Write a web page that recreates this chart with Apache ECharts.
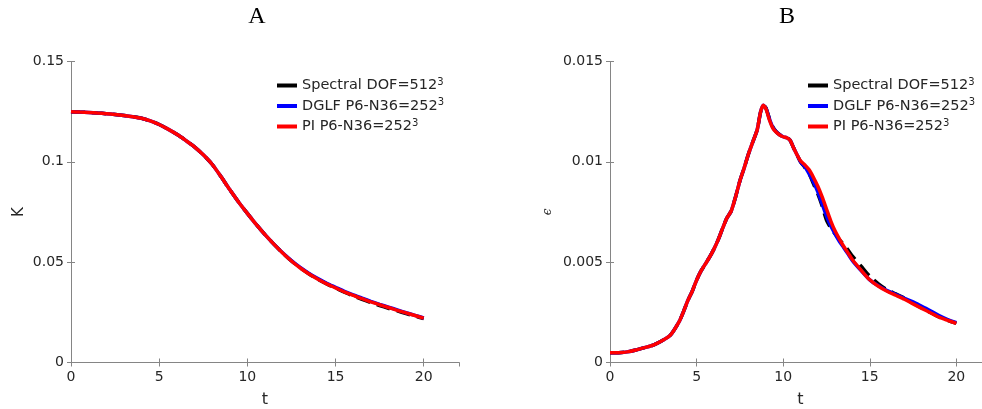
<!DOCTYPE html>
<html><head><meta charset="utf-8">
<script src="https://cdn.jsdelivr.net/npm/echarts@6/dist/echarts.min.js"></script>
<style>html,body{margin:0;padding:0;background:#fff}#c{width:982px;height:409px}</style>
</head><body><div id="c"></div>
<script>
// ---- Data ----
const seriesNames = ['Spectral DOF=512³', 'DGLF P6-N36=252³', 'PI P6-N36=252³'];
const panelTitles = ['A', 'B'];
const xTicks = [0, 5, 10, 15, 20];
const kTicks = [0, 0.05, 0.1, 0.15];
const epsTicks = [0, 0.005, 0.01, 0.015];

// Panel A: kinetic energy K(t)
const tK = [0,0.5,1,1.5,2,2.5,3,3.5,4,4.5,5,5.5,6,6.5,7,7.5,8,8.5,9,9.5,10,10.5,11,11.5,12,12.5,13,13.5,14,14.5,15,15.5,16,16.5,17,17.5,18,18.5,19,19.5,20];
const kPI = [0.1250,0.1248,0.1246,0.1243,0.1240,0.1236,0.1231,0.1225,0.1217,0.1204,0.1186,0.1163,0.1137,0.1107,0.1075,0.1035,0.0988,0.0927,0.0862,0.0800,0.0743,0.0688,0.0637,0.0590,0.0546,0.0506,0.0471,0.0441,0.0415,0.0392,0.0372,0.0352,0.0334,0.0318,0.0302,0.0288,0.0274,0.0260,0.0247,0.0234,0.0221];
const kDGLF = [0.1250,0.1248,0.1246,0.1243,0.1240,0.1236,0.1231,0.1225,0.1217,0.1204,0.1186,0.1163,0.1137,0.1107,0.1075,0.1035,0.0988,0.0927,0.0862,0.0800,0.0743,0.0688,0.0637,0.0590,0.0547,0.0508,0.0474,0.0444,0.0418,0.0395,0.0375,0.0355,0.0337,0.0321,0.0305,0.0290,0.0276,0.0262,0.0248,0.0235,0.0222];
const kSpectral = [0.1250,0.1248,0.1246,0.1243,0.1240,0.1236,0.1231,0.1225,0.1217,0.1204,0.1186,0.1163,0.1137,0.1107,0.1075,0.1035,0.0988,0.0927,0.0862,0.0800,0.0743,0.0688,0.0637,0.0590,0.0546,0.0506,0.0471,0.0441,0.0415,0.0392,0.0371,0.0351,0.0332,0.0315,0.0299,0.0284,0.0270,0.0257,0.0244,0.0231,0.0219];

// Panel B: dissipation rate eps(t)
const tE = [0,0.5,1,1.5,2,2.5,3,3.5,4,4.25,4.5,4.75,5,5.25,5.5,5.75,6,6.25,6.5,6.75,7,7.25,7.5,7.75,8,8.25,8.5,8.7,8.85,9,9.2,9.4,9.6,9.8,10,10.2,10.4,10.6,10.8,11,11.25,11.5,11.75,12,12.25,12.5,12.75,13,13.25,13.5,13.75,14,14.5,15,15.5,16,16.5,17,17.5,18,18.5,19,19.5,20];
const ePI = [0.00048,0.00049,0.00053,0.00062,0.00074,0.00087,0.00108,0.00138,0.00205,0.00255,0.00310,0.00355,0.00410,0.00455,0.00490,0.00525,0.00565,0.00612,0.00668,0.00720,0.00755,0.00825,0.00905,0.00970,0.01040,0.01100,0.01160,0.01250,0.01282,0.01265,0.01210,0.01168,0.01148,0.01134,0.01125,0.01120,0.01108,0.01070,0.01035,0.01005,0.00985,0.00960,0.00922,0.00878,0.00825,0.00765,0.00705,0.00655,0.00615,0.00578,0.00545,0.00512,0.00460,0.00412,0.00380,0.00355,0.00335,0.00315,0.00292,0.00270,0.00248,0.00226,0.00210,0.00195];
const eDGLF = [0.00048,0.00049,0.00053,0.00062,0.00074,0.00087,0.00108,0.00138,0.00205,0.00255,0.00310,0.00355,0.00410,0.00455,0.00490,0.00525,0.00565,0.00612,0.00668,0.00720,0.00755,0.00825,0.00905,0.00970,0.01040,0.01100,0.01160,0.01250,0.01282,0.01268,0.01215,0.01172,0.01150,0.01135,0.01125,0.01120,0.01108,0.01070,0.01035,0.01000,0.00975,0.00940,0.00900,0.00850,0.00790,0.00730,0.00680,0.00640,0.00603,0.00572,0.00540,0.00508,0.00458,0.00412,0.00382,0.00358,0.00340,0.00320,0.00302,0.00280,0.00258,0.00234,0.00214,0.00198];
const eSpectral = [0.00048,0.00049,0.00053,0.00062,0.00074,0.00087,0.00108,0.00138,0.00205,0.00255,0.00310,0.00355,0.00410,0.00455,0.00490,0.00525,0.00565,0.00612,0.00668,0.00720,0.00755,0.00825,0.00905,0.00970,0.01040,0.01100,0.01160,0.01250,0.01282,0.01270,0.01218,0.01175,0.01150,0.01135,0.01125,0.01120,0.01108,0.01070,0.01035,0.01000,0.00972,0.00940,0.00890,0.00840,0.00780,0.00710,0.00670,0.00640,0.00612,0.00588,0.00560,0.00530,0.00480,0.00430,0.00392,0.00362,0.00342,0.00322,0.00295,0.00272,0.00249,0.00227,0.00210,0.00195];

// ---- Chart ----
const zip = (xs, ys) => xs.map((x, i) => [x, ys[i]]);
const axisCol = '#858585', textCol = '#262626';
const fontSans = 'DejaVu Sans';
const fmt = v => String(+v.toFixed(4));

function xAxes(gi) {
  return [
    {gridIndex: gi, type: 'value', min: 0, max: 22, interval: 5, position: 'bottom',
     name: 't', nameLocation: 'middle', nameGap: 29,
     nameTextStyle: {fontFamily: fontSans, fontSize: 16, color: textCol},
     axisLine: {show: true, lineStyle: {color: axisCol, width: 1}},
     axisTick: {show: true, inside: true, length: 4, lineStyle: {color: axisCol}},
     axisLabel: {fontFamily: fontSans, fontSize: 14, color: textCol, margin: 8, showMaxLabel: false,
                 formatter: v => xTicks.includes(v) ? String(v) : ''},
     splitLine: {show: false}},
    {gridIndex: gi, type: 'value', min: 0, max: 22, interval: 5, position: 'top',
     axisLine: {show: true, lineStyle: {color: axisCol, width: 1}},
     axisTick: {show: true, inside: true, length: 4, lineStyle: {color: axisCol}},
     axisLabel: {show: false}, splitLine: {show: false}}
  ];
}
function yAxes(gi, max, interval, name, nameStyle, nameGap, ticks) {
  return [
    {gridIndex: gi, type: 'value', min: 0, max: max, interval: interval, position: 'left',
     name: name, nameLocation: 'middle', nameGap: nameGap, nameRotate: 90, nameTextStyle: nameStyle,
     axisLine: {show: true, lineStyle: {color: axisCol, width: 1}},
     axisTick: {show: true, inside: true, length: 4, lineStyle: {color: axisCol}},
     axisLabel: {fontFamily: fontSans, fontSize: 14, color: textCol, margin: 7,
                 formatter: v => ticks.some(t => Math.abs(t - v) < 1e-9) ? fmt(v) : ''},
     splitLine: {show: false}},
    {gridIndex: gi, type: 'value', min: 0, max: max, interval: interval, position: 'right',
     axisLine: {show: true, lineStyle: {color: axisCol, width: 1}},
     axisTick: {show: true, inside: true, length: 4, lineStyle: {color: axisCol}},
     axisLabel: {show: false}, splitLine: {show: false}}
  ];
}

const styles = [
  {color: '#000000', type: [14, 7]},
  {color: '#0000ff', type: 'solid'},
  {color: '#ff0000', type: 'solid'}
];
function mkSeries(xi, yi, datas) {
  return datas.map((d, i) => ({
    type: 'line', name: seriesNames[i], xAxisIndex: xi, yAxisIndex: yi,
    data: d, showSymbol: false, symbol: 'none', smooth: 0.25, animation: false,
    lineStyle: {color: styles[i].color, width: 3.5, type: styles[i].type},
    itemStyle: {color: styles[i].color}, z: 2 + i
  }));
}

const legendText = {
  fontFamily: fontSans, fontSize: 14.5, color: textCol,
  rich: {
    b: {fontFamily: fontSans, fontSize: 14.5, color: textCol, lineHeight: 17},
    s: {fontFamily: fontSans, fontSize: 10, color: textCol, lineHeight: 10, verticalAlign: 'top', padding: [0, 0, 7, 0]}
  }
};
const legendFmt = n => '{b|' + n.replace('³', '') + '}{s|3}';
function mkLegend(left) {
  return {
    left: left, top: 77, orient: 'vertical', itemWidth: 20, itemHeight: 4, itemGap: 3.5,
    data: seriesNames.map(n => ({name: n, icon: 'rect'})),
    textStyle: legendText, formatter: legendFmt, selectedMode: false,
    padding: 0
  };
}

const chart = echarts.init(document.getElementById('c'), null, {renderer: 'canvas'});
chart.setOption({
  animation: false,
  backgroundColor: '#ffffff',
  grid: [
    {left: 71, top: 61.5, width: 388, height: 301, show: false, containLabel: false, outerBoundsMode: 'none'},
    {left: 610, top: 61.5, width: 381, height: 301, show: false, containLabel: false, outerBoundsMode: 'none'}
  ],
  xAxis: [...xAxes(0), ...xAxes(1)],
  yAxis: [
    ...yAxes(0, 0.15, 0.05, 'K', {fontFamily: fontSans, fontSize: 15, color: textCol}, 44, kTicks),
    ...yAxes(1, 0.015, 0.005, 'ϵ', {fontFamily: 'DejaVu Serif', fontStyle: 'italic', fontSize: 12, color: textCol}, 56, epsTicks)
  ],
  legend: [mkLegend(277), mkLegend(808)],
  series: [
    ...mkSeries(0, 0, [zip(tK, kSpectral), zip(tK, kDGLF), zip(tK, kPI)]),
    ...mkSeries(2, 2, [zip(tE, eSpectral), zip(tE, eDGLF), zip(tE, ePI)])
  ],
  graphic: [
    {type: 'text', x: 257, y: 17, style: {text: panelTitles[0], font: '24px "Liberation Serif"', fill: '#000', textAlign: 'center', textVerticalAlign: 'middle'}},
    {type: 'text', x: 787, y: 17, style: {text: panelTitles[1], font: '24px "Liberation Serif"', fill: '#000', textAlign: 'center', textVerticalAlign: 'middle'}}
  ]
});
</script>
</body></html>
